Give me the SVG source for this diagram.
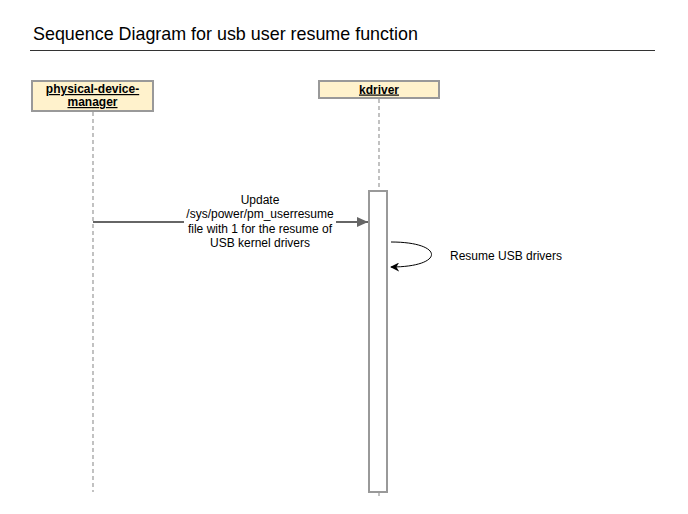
<svg xmlns="http://www.w3.org/2000/svg" width="688" height="514" viewBox="0 0 688 514">
<style>
text{font-family:"Liberation Sans",Arial,sans-serif;fill:#000}
.actor rect{fill:#fff2cc;stroke:#999;stroke-width:2}
.actor text{font-size:12px;font-weight:bold;text-decoration:underline;text-anchor:middle}
.life{stroke:#999;stroke-width:1.2;stroke-dasharray:4 3;fill:none}
.lbl{font-size:12px;text-anchor:middle}
</style>
<defs>
<marker id="ah" viewBox="0 0 10 10" refX="10" refY="5" markerWidth="11" markerHeight="11" orient="auto" markerUnits="userSpaceOnUse">
<path d="M0,0.5 L10,5 L0,9.5 Z" fill="#666"/>
</marker>
<marker id="ah2" viewBox="0 0 10 10" refX="9" refY="5" markerWidth="9" markerHeight="9" orient="auto" markerUnits="userSpaceOnUse">
<path d="M0,0 L10,5 L0,10 L3,5 Z" fill="#000"/>
</marker>
</defs>
<g id="title">
<text x="33" y="40" style="font-size:17.9px">Sequence Diagram for usb user resume function</text>
<line x1="30" y1="50.5" x2="655" y2="50.5" stroke="#333" stroke-width="1"/>
</g>
<g id="lifelines">
<line class="life" x1="93" y1="112" x2="93" y2="492"/>
<line class="life" x1="379" y1="99" x2="379" y2="190"/>
<line class="life" x1="379" y1="492" x2="379" y2="497"/>
</g>
<g id="physical-device-manager" class="actor">
<rect x="32" y="81" width="121" height="30"/>
<text x="92.5" y="93">physical-device-</text>
<text x="92.5" y="106">manager</text>
</g>
<g id="kdriver" class="actor">
<rect x="319" y="81" width="120" height="17"/>
<text x="379" y="93.5">kdriver</text>
</g>
<g id="activation">
<rect x="369" y="191" width="18" height="301" fill="#fff" stroke="#999" stroke-width="2"/>
</g>
<g id="connectors">
<line x1="93" y1="222" x2="368" y2="222" stroke="#666" stroke-width="2" marker-end="url(#ah)"/>
<path d="M391,242 C445,242 445,267 391,267" fill="none" stroke="#000" stroke-width="1" marker-end="url(#ah2)"/>
</g>
<g id="labels">
<rect x="184" y="211" width="152" height="22" fill="#fff"/>
<text class="lbl" x="260" y="204">Update</text>
<text class="lbl" x="260" y="218">/sys/power/pm_userresume</text>
<text class="lbl" x="260" y="233">file with 1 for the resume of</text>
<text class="lbl" x="260" y="247">USB kernel drivers</text>
<text x="450" y="260" style="font-size:12px">Resume USB drivers</text>
</g>
</svg>
